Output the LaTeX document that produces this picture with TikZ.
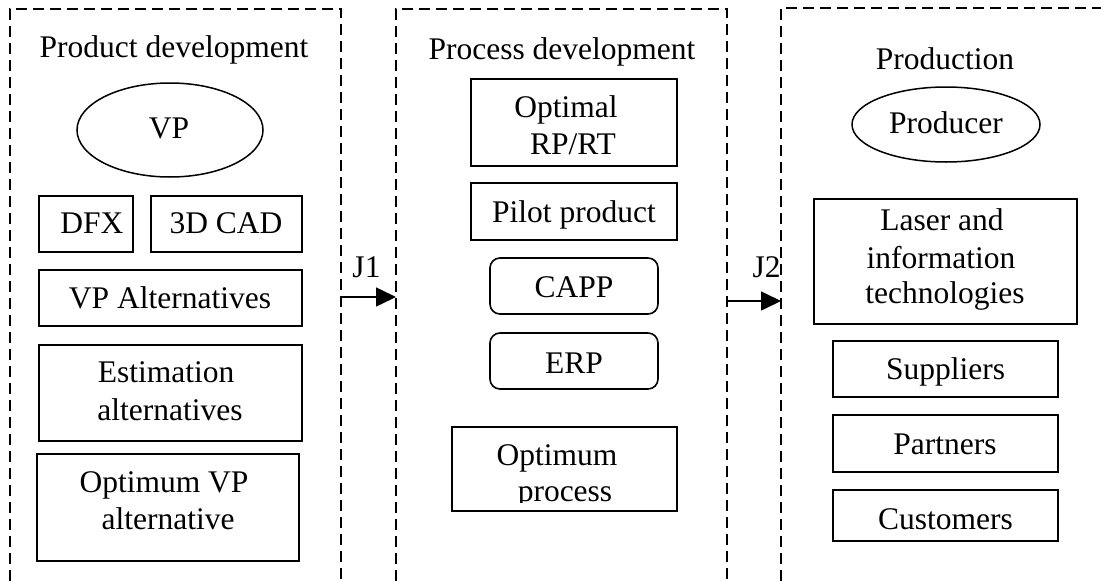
\documentclass[tikz,border=0pt]{standalone}
\usepackage{fontspec}
\setmainfont{Liberation Serif}
\usetikzlibrary{shapes.geometric,arrows.meta}
\tikzset{
  panel/.style={draw, line width=1.6pt, dash pattern=on 11pt off 6pt},
  box/.style={draw, line width=1.6pt, rectangle, inner sep=0pt},
  rbox/.style={box, rounded corners=10pt},
  oval/.style={draw, ellipse, line width=1.5pt, inner sep=0pt},
  txt/.style={inner sep=0pt, anchor=base, font=\fontsize{31.5}{37}\selectfont},
  link/.style={line width=1.6pt, -{Triangle[length=20pt,width=19pt]}}
}
\begin{document}
\begin{tikzpicture}[x=1pt,y=-1pt]
\useasboundingbox (0,0) rectangle (1101,581);
% panels
\draw[panel] (10,581) -- (10,9) -- (341,9) -- (341,581);
\draw[panel] (396,581) -- (396,9) -- (727,9) -- (727,581);
\draw[panel] (781,581) -- (781,8) -- (1101,8);
% titles
\node[txt] (t1) at (174,57) {Product development};
\node[txt] (t2) at (562,59) {Process development};
\node[txt] (t3) at (945,69) {Production};
% panel 1
\node[oval, minimum width=186pt, minimum height=94pt] (vp) at (170,130) {};
\node[txt] (vpt) at (169,138) {VP};
\node[box, minimum width=94pt, minimum height=56pt] (dfx) at (86,224) {};
\node[txt] (dfxt) at (92,233) {DFX};
\node[box, minimum width=151pt, minimum height=56pt] (cad) at (226.5,224) {};
\node[txt] (cadt) at (226,233) {3D CAD};
\node[box, minimum width=263pt, minimum height=56pt] (vpalt) at (170.5,298) {};
\node[txt] (vpaltt) at (170,308) {VP Alternatives};
\node[box, minimum width=263pt, minimum height=96pt] (est) at (170.5,393) {};
\node[txt] (est1) at (166,382) {Estimation};
\node[txt] (est2) at (170,420) {alternatives};
\node[box, minimum width=262pt, minimum height=107pt] (optvp) at (168,507.5) {};
\node[txt] (optvp1) at (164,492) {Optimum VP};
\node[txt] (optvp2) at (168,529) {alternative};
% panel 2
\node[box, minimum width=206pt, minimum height=87pt] (rprt) at (574,122.5) {};
\node[txt] (rprt1) at (566,117) {Optimal};
\node[txt] (rprt2) at (573,154) {RP/RT};
\node[box, minimum width=206pt, minimum height=57pt] (pilot) at (574,211.5) {};
\node[txt] (pilott) at (574,222) {Pilot product};
\node[rbox, minimum width=168pt, minimum height=56pt] (capp) at (574,286) {};
\node[txt] (cappt) at (574,297) {CAPP};
\node[rbox, minimum width=168pt, minimum height=56pt] (erp) at (574,361) {};
\node[txt] (erpt) at (574,373) {ERP};
\node[box, minimum width=225pt, minimum height=84pt] (optproc) at (564.5,469) {};
\node[txt] (optproc1) at (557,465) {Optimum};
\begin{scope}
\clip (452,430) rectangle (677,502.7);
\node[txt] (optproc2) at (565,501.5) {process};
\end{scope}
% panel 3
\node[oval, minimum width=188pt, minimum height=75pt] (prod) at (946,124.5) {};
\node[txt] (prodt) at (946,133) {Producer};
\node[box, minimum width=263pt, minimum height=125pt] (laser) at (945.5,261.5) {};
\node[txt] (laser1) at (942,230) {Laser and};
\node[txt] (laser2) at (941,268) {information};
\node[txt] (laser3) at (945,303) {technologies};
\node[box, minimum width=225pt, minimum height=56pt] (sup) at (945.5,369) {};
\node[txt] (supt) at (945.5,379) {Suppliers};
\node[box, minimum width=225pt, minimum height=57pt] (par) at (945.5,443.5) {};
\node[txt] (part) at (945,454) {Partners};
\node[box, minimum width=225pt, minimum height=51pt] (cus) at (945.5,515.5) {};
\node[txt] (cust) at (945.5,529) {Customers};
% connectors
\coordinate (j1s) at (341,297);
\coordinate (j1e) at (396,297);
\coordinate (j2s) at (727,301);
\coordinate (j2e) at (781,301);
\draw[link] (j1s) -- (j1e);
\draw[link] (j2s) -- (j2e);
\node[txt] (j1) at (366.5,277) {J1};
\node[txt] (j2) at (766.5,277) {J2};
\end{tikzpicture}
\end{document}
